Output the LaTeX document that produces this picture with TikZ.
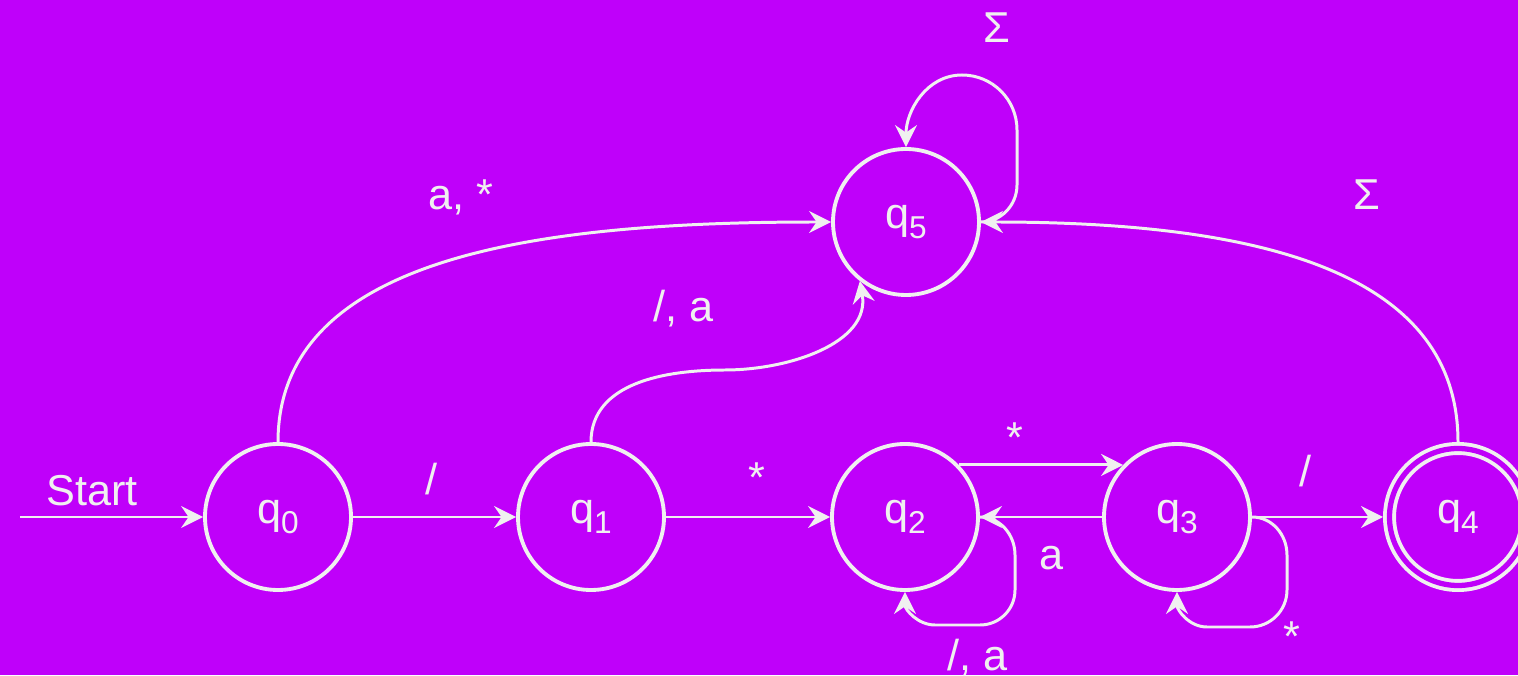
\documentclass[tikz,border=0pt]{standalone}
\usepackage{fontspec}
\setmainfont{Liberation Sans}
\usetikzlibrary{positioning, arrows.meta}
\definecolor{bgpurple}{RGB}{191,0,250}
\definecolor{chalk}{RGB}{240,240,240}
\newcommand{\qsub}[1]{q\raisebox{-3pt}{\fontsize{9}{10}\selectfont #1}}

\begin{document}
\begin{tikzpicture}[>={Stealth[length=2.2mm, width=2.2mm, inset=0.75mm]},
    every node/.style={font=\fontsize{12.3}{14}\selectfont, text=chalk},
    state/.style={draw=chalk, circle, line width=1.1pt,
                  minimum size=1.46cm, inner sep=0pt},
    final/.style={draw=chalk, circle, line width=1.1pt,
                  double=bgpurple, double distance=1.5pt,
                  minimum size=1.37cm, inner sep=0pt, outer sep=1.85pt},
    edge/.style={->, draw=chalk, line width=0.85pt},
    lbl/.style={anchor=base, inner sep=0pt}]
    \fill[bgpurple] (0,0) rectangle (15.18,6.75);
    \useasboundingbox (0,0) rectangle (15.18,6.75);
    % states
    \node[state] (q0) at (2.78,1.58) {\qsub{0}};
    \node[state] (q1) at (5.91,1.58) {\qsub{1}};
    \node[state] (q2) at (9.05,1.58) {\qsub{2}};
    \node[state] (q3) at (11.77,1.58) {\qsub{3}};
    \node[final] (q4) at (14.58,1.58) {\qsub{4}};
    \node[state] (q5) at (9.06,4.53) {\qsub{5}};
    \coordinate (start) at (0.20,1.58);
    \coordinate (bend15) at (7.25,3.05);
    % transitions
    \draw[edge, line width=0.5pt] (start) -- (q0);
    \draw[edge] (q0) -- (q1);
    \draw[edge] (q1) -- (q2);
    \draw[edge] (q2.44) -- (q3.136);
    \draw[edge] (q3) -- (q2);
    \draw[edge] (q3) -- (q4);
    % self loops
    \draw[edge] (q2.east) to[out=0, in=90] (10.15,1.2) -- (10.15,0.85)
      to[out=-90, in=0] (9.80,0.50) -- (9.35,0.50)
      to[out=180, in=-90] (q2.south);
    \draw[edge] (q3.east) to[out=0, in=90] (12.87,1.2) -- (12.87,0.85)
      to[out=-90, in=0] (12.50,0.48) -- (12.07,0.48)
      to[out=180, in=-90] (q3.south);
    \draw[edge] (q5.east) to[out=0, in=-90] (10.17,4.90) -- (10.17,5.45)
      to[out=90, in=0] (9.62,6.00) to[out=180, in=90] (q5.north);
    % curved edges to q5
    \draw[edge] (q0.north) .. controls +(0,1.9) and +(-2.8,0) .. (q5.west);
    \draw[edge] (q1.north) to[out=90, in=180] (bend15)
      to[out=0, in=-80] (q5.232);
    \draw[edge] (q4.north) .. controls +(0,1.7) and +(2.8,0) .. (q5.east);
    % labels
    \node[lbl] (lstart) at (0.92,1.70) {Start};
    \node[lbl] (l01) at (4.32,1.80) {/};
    \node[lbl] (l12) at (7.57,1.82) {*};
    \node[lbl] (l23) at (10.15,2.22) {*};
    \node[lbl] (l32) at (10.52,1.05) {a};
    \node[lbl] (l22) at (9.78,0.05) {/, a};
    \node[lbl] (l33) at (12.92,0.24) {*};
    \node[lbl] (l34) at (13.05,1.88) {/};
    \node[lbl] (l05) at (4.61,4.65) {a, *};
    \node[lbl] (l15) at (6.84,3.53) {/, a};
    \node[lbl] (l55) at (9.97,6.32) {Σ};
    \node[lbl] (l45) at (13.67,4.65) {Σ};
\end{tikzpicture}
\end{document}
